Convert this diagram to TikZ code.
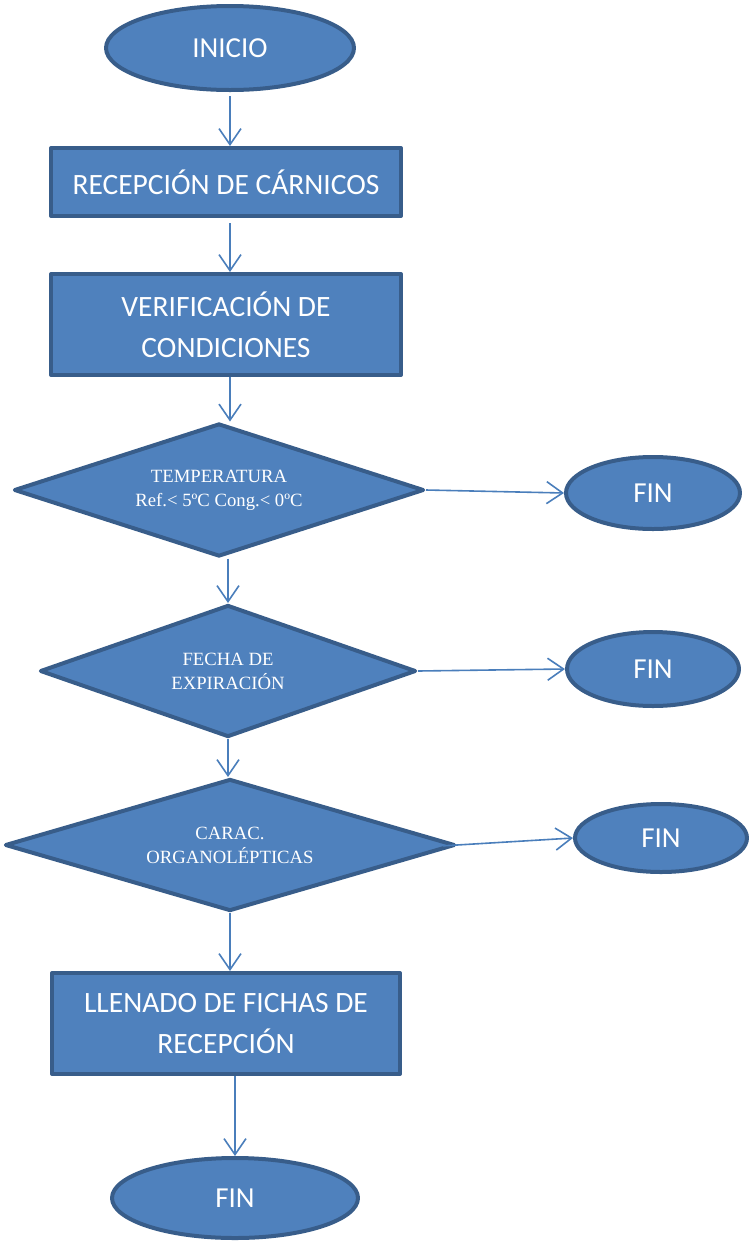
\documentclass[tikz,border=0pt]{standalone}
\usepackage{fontspec}
\setmainfont{Carlito}
\newfontfamily\diamondfont{Liberation Serif}
\usetikzlibrary{shapes.geometric,arrows.meta}
\definecolor{boxfill}{HTML}{4F81BD}
\definecolor{boxline}{HTML}{385D8A}
\definecolor{arrowc}{HTML}{4A7EBB}
\begin{document}
\begin{tikzpicture}[x=1pt,y=-1pt,
 base/.style={draw=boxline, fill=boxfill, line width=4pt, line join=round, inner sep=0pt, text=white},
 terminal/.style={base, ellipse, font=\fontsize{29}{35}\selectfont},
 process/.style={base, rectangle, align=center, font=\fontsize{29.5}{41}\selectfont},
 decision/.style={base, diamond, aspect=3, align=center, font=\diamondfont\fontsize{18.7}{24}\selectfont},
 flow/.style={draw=arrowc, line width=1.6pt, -{Straight Barb[length=16pt,width=22pt,line width=1.6pt]}}
]
\useasboundingbox (0,0) rectangle (750,1243);
\node[terminal, minimum width=248pt, minimum height=84pt] (inicio) at (230,48) {INICIO};
\node[process, minimum width=350pt, minimum height=68pt] (recep) at (226,182) {RECEPCIÓN DE CÁRNICOS};
\node[process, minimum width=350pt, minimum height=101pt] (verif) at (226,324.5) {VERIFICACIÓN DE\\CONDICIONES};
\node[decision, minimum width=410pt, minimum height=133pt] (temp) at (219,490) {TEMPERATURA\\Ref.< 5ºC Cong.< 0ºC};
\node[terminal, minimum width=174pt, minimum height=72pt] (fin1) at (653,493) {FIN};
\node[decision, minimum width=376pt, minimum height=132pt] (fecha) at (228,671) {FECHA DE\\EXPIRACIÓN};
\node[terminal, minimum width=172pt, minimum height=74pt] (fin2) at (653,669) {FIN};
\node[decision, minimum width=450pt, minimum height=132pt] (carac) at (230,845) {CARAC.\\ORGANOLÉPTICAS};
\node[terminal, minimum width=172pt, minimum height=68pt] (fin3) at (661,838) {FIN};
\node[process, minimum width=348pt, minimum height=101pt] (llen) at (226,1023.5) {LLENADO DE FICHAS DE\\RECEPCIÓN};
\node[terminal, minimum width=246pt, minimum height=80pt] (fin4) at (235,1198) {FIN};

\draw[flow, shorten <=4pt] (inicio.south) -- (inicio.south |- recep.north);
\draw[flow, shorten <=5pt] (inicio.south |- recep.south) -- (inicio.south |- verif.north);
\draw[flow] (inicio.south |- verif.south) -- (inicio.south |- temp.north);
\draw[flow] (fecha.north |- temp.south) -- (fecha.north);
\draw[flow] (fecha.south) -- (fecha.south |- carac.north);
\draw[flow] (carac.south) -- (carac.south |- llen.north);
\draw[flow] (fin4.north |- llen.south) -- (fin4.north);
\draw[flow] (temp.east) -- (fin1.west);
\draw[flow] (fecha.east) -- (fin2.west);
\draw[flow, shorten <=-14pt] (carac.east) -- (fin3.west);
\end{tikzpicture}
\end{document}
